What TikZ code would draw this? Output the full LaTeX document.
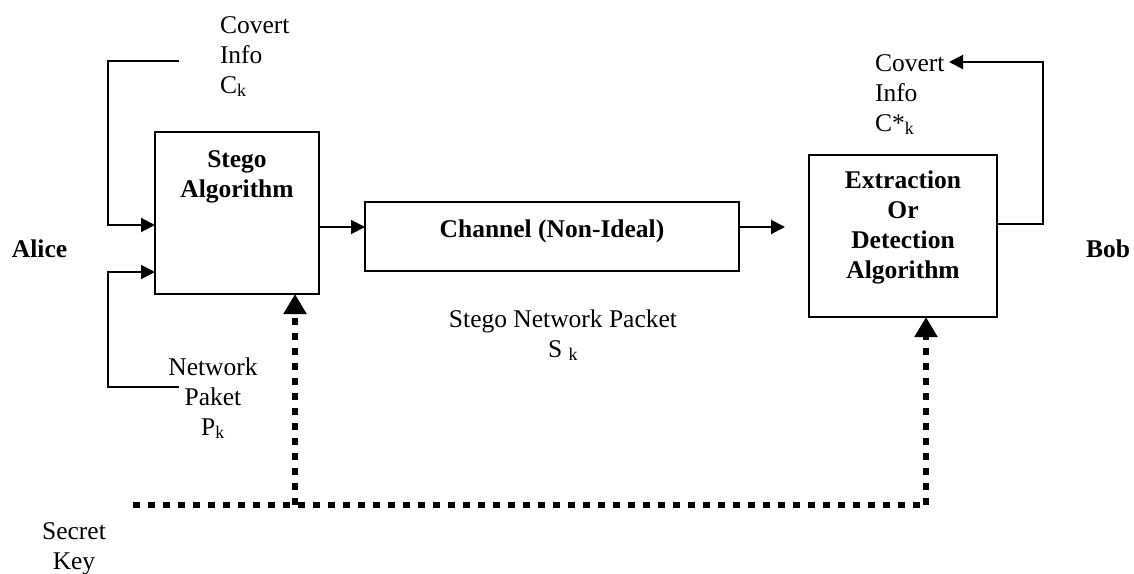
\documentclass[tikz,border=0pt]{standalone}
\usepackage{fontspec}
\setmainfont{Liberation Serif}
\usetikzlibrary{arrows.meta}
\newcommand{\dgfont}{\fontsize{25.5pt}{30pt}\selectfont}
\begin{document}
\begin{tikzpicture}[x=1pt,y=-1pt,
  every node/.style={font=\dgfont, inner sep=0pt, outer sep=0pt},
  box/.style={draw, line width=2pt},
  txt/.style={anchor=north, align=center},
  txtl/.style={anchor=north west, align=left},
  conn/.style={line width=2pt, -{Triangle[length=14pt,width=14pt]}},
  plain/.style={line width=2pt},
  keyline/.style={line width=6.5pt, dash pattern=on 7pt off 8pt},
  keyarrow/.style={keyline, -{Triangle[length=20pt,width=22pt]}}]
\useasboundingbox (0,0) rectangle (1134,573);

% boxes
\node[box, minimum width=164pt, minimum height=162pt] (stego) at (237,213) {};
\node[box, minimum width=374pt, minimum height=69pt] (chan) at (552,236.5) {};
\node[box, minimum width=188pt, minimum height=162pt] (ext) at (903,236) {};

% box texts
\node[txt, font=\dgfont\bfseries] (stegot) at (237,146) {\strut Stego\\Algorithm};
\node[anchor=base, font=\dgfont\bfseries] (chant) at (552,237) {Channel (Non-Ideal)};
\node[txt, font=\dgfont\bfseries] (extt) at (903,167) {\strut Extraction\\Or\\Detection\\Algorithm};

% side labels
\node[anchor=base west, font=\dgfont\bfseries] (alice) at (12,257) {Alice};
\node[anchor=base west, font=\dgfont\bfseries] (bob) at (1086,257) {Bob};

% other texts
\node[txtl] (covin) at (220,12) {\strut Covert\\Info\\C\textsubscript{k}};
\node[txtl] (covout) at (875,50) {\strut Covert\\Info\\C*\textsubscript{k}};
\node[txt] (pk) at (213,354) {\strut Network\\Paket\\P\textsubscript{k}};
\node[txt] (snp) at (563,306) {\strut Stego Network Packet\\S \textsubscript{k}};
\node[txt] (key) at (74,518) {\strut Secret\\Key};

% coordinates
\coordinate (cin) at (179,61);
\coordinate (pin) at (179,387);
\coordinate (ay) at (0,227);
\coordinate (cend) at (785,227);
\coordinate (cout) at (949,62);
\coordinate (kL) at (133,505);
\coordinate (kM) at (295,505);
\coordinate (kR) at (926,505);

% inputs to stego
\draw[conn] (cin) -- (108,61) |- (stego.west |- 0,225);
\draw[conn] (pin) -- (108,387) |- (stego.west |- 0,272);

% main flow
\draw[conn] (stego.east |- ay) -- (chan.west |- ay);
\draw[conn] (chan.east |- ay) -- (cend);

% output
\draw[conn] (ext.east |- 0,224) -- (1043,224) |- (cout);

% secret key
\draw[keyline] (kL) -- (kR);
\draw[keyarrow] (kM) -- (kM |- stego.south);
\draw[keyarrow] (kR) -- (kR |- ext.south);
\end{tikzpicture}
\end{document}
